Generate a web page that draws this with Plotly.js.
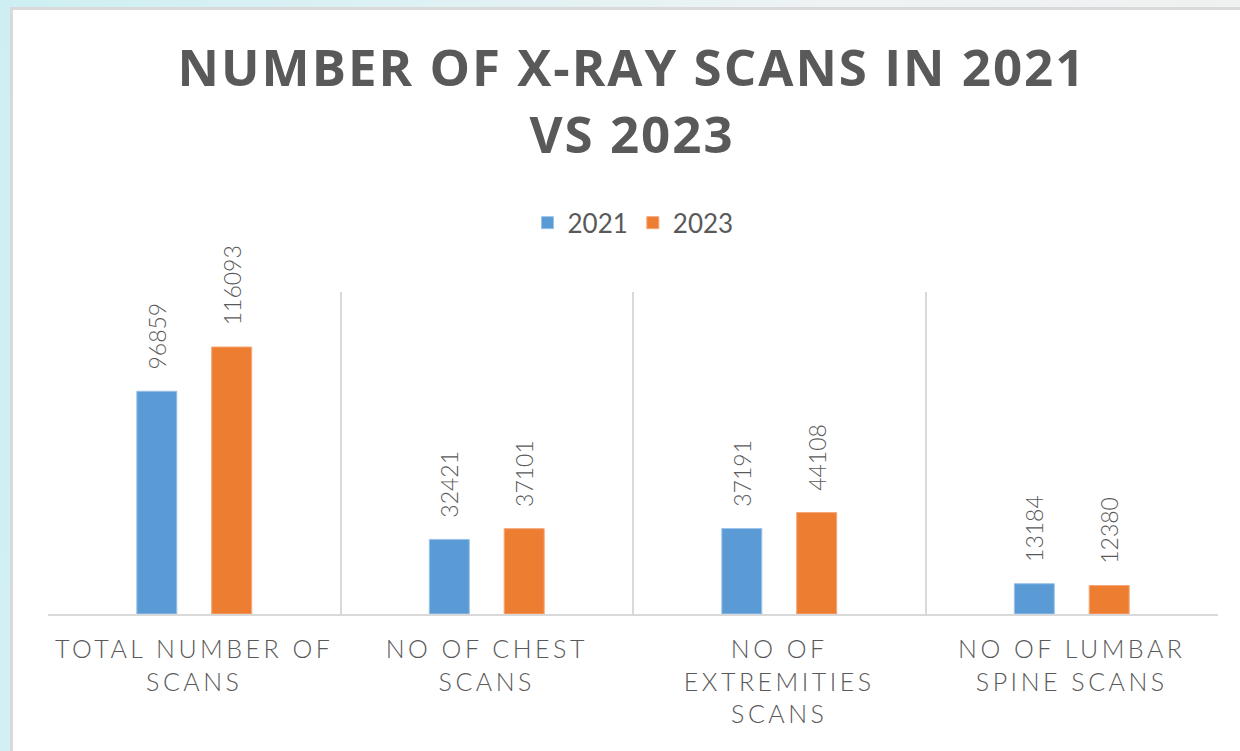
<!DOCTYPE html>
<html>
<head>
<meta charset="utf-8">
<script src="https://cdn.plot.ly/plotly-3.0.1.min.js"></script>
<style>
  html, body { margin: 0; padding: 0; }
  body {
    width: 1240px; height: 751px; overflow: hidden; position: relative;
    background: linear-gradient(100deg, #cdeff3 0%, #eef3f4 60%, #f0f0f0 100%);
  }
  #card {
    position: absolute; left: 10px; top: 7px; width: 1240px; height: 760px;
    background: #fff; border: 3px solid #d9d9d9; box-sizing: border-box;
  }
  #myDiv { position: absolute; left: 0; top: 0; width: 1240px; height: 751px; }
  #myDiv .gtitle { letter-spacing: 2px; }
  #myDiv .xtick text { letter-spacing: 3.5px; }
  #myDiv .bartext text { letter-spacing: 1px; }
</style>
</head>
<body>
<div id="card"></div>
<div id="myDiv"></div>
<script>
//---------------------- DATA ---------------------------
var categories = ['TOTAL NUMBER OF<br>SCANS', 'NO OF CHEST<br>SCANS', 'NO OF<br>EXTREMITIES<br>SCANS', 'NO OF LUMBAR<br>SPINE SCANS'];
var scans2021 = [96859, 32421, 37191, 13184];
var scans2023 = [116093, 37101, 44108, 12380];
var seriesNames = ['2021', '2023'];

var colors = ['#5b9bd5', '#ed7d31'];
var textGray = '#595959';

//---------------------- BAR CHART ---------------------------
function bars(){
  var databar = [{
    x: categories,
    y: scans2021,
    name: seriesNames[0],
    type: 'bar',
    marker: {color: colors[0], line: {color: '#9cc3e8', width: 1}},
    text: scans2021.map(String),
    texttemplate: '\u00a0\u00a0\u00a0%{text}',
    textposition: 'outside',
    textangle: -90,
    cliponaxis: false,
    constraintext: 'none',
    textfont: {family: 'Lato, sans-serif', size: 23, color: textGray, weight: 300},
    hoverinfo: 'name+y'
  },{
    x: categories,
    y: scans2023,
    name: seriesNames[1],
    type: 'bar',
    marker: {color: colors[1], line: {color: '#f4a779', width: 1}},
    text: scans2023.map(String),
    texttemplate: '\u00a0\u00a0\u00a0%{text}',
    textposition: 'outside',
    textangle: -90,
    cliponaxis: false,
    constraintext: 'none',
    textfont: {family: 'Lato, sans-serif', size: 23, color: textGray, weight: 300},
    hoverinfo: 'name+y'
  }];

  var layout = {
    width: 1240,
    height: 751,
    margin: {l: 48, r: 22, t: 292, b: 137},
    paper_bgcolor: 'rgba(0,0,0,0)',
    plot_bgcolor: 'rgba(0,0,0,0)',
    title: {
      text: 'NUMBER OF X-RAY SCANS IN 2021<br>VS 2023',
      font: {family: 'Open Sans, sans-serif', size: 51, color: textGray, weight: 'bold'},
      x: 0.5097, xanchor: 'center',
      y: 0.885, yanchor: 'top', yref: 'container'
    },
    showlegend: true,
    legend: {
      orientation: 'h',
      x: 0.5, xanchor: 'center',
      y: 1.215, yanchor: 'middle',
      font: {family: 'Lato, sans-serif', size: 26, color: textGray},
      itemwidth: 30
    },
    barmode: 'group',
    bargap: 0.488,
    bargroupgap: 0.466,
    xaxis: {
      type: 'category',
      tickson: 'boundaries',
      showgrid: true,
      gridcolor: '#d9d9d9',
      gridwidth: 2,
      showline: true,
      linecolor: '#d9d9d9',
      linewidth: 2,
      ticks: '',
      ticklabelstandoff: 12,
      tickfont: {family: 'Lato, sans-serif', size: 25, color: textGray, weight: 300},
      fixedrange: true
    },
    yaxis: {
      range: [0, 140000],
      visible: false,
      showgrid: false,
      zeroline: false,
      fixedrange: true
    },
    hovermode: 'x unified'
  };

  Plotly.newPlot('myDiv', databar, layout, {displayModeBar: false});
}

bars();
</script>
</body>
</html>
